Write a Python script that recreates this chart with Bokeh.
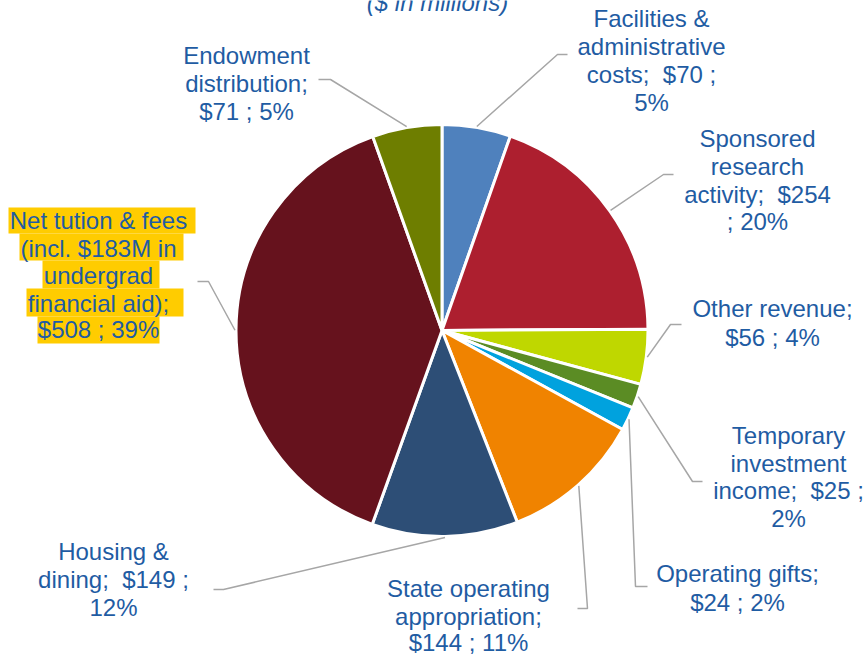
import math
from bokeh.plotting import figure
from bokeh.models import ColumnDataSource
from bokeh.core.properties import value
from bokeh.embed import file_html
from bokeh.resources import INLINE

# ---------------- data ----------------
categories = ["Facilities & administrative costs", "Sponsored research activity",
              "Other revenue", "Temporary investment income", "Operating gifts",
              "State operating appropriation", "Housing & dining",
              "Net tution & fees (incl. $183M in undergrad financial aid)",
              "Endowment distribution"]
values = [70, 254, 56, 25, 24, 144, 149, 508, 71]
percents = [5, 20, 4, 2, 2, 11, 12, 39, 5]
colors = ["#4F81BD", "#AD1F2F", "#BFD700", "#5B8C24", "#00A2DE",
          "#F08300", "#2D4E76", "#66121D", "#6E7E00"]
NB = "\u00a0"
label_lines = [
    ["Facilities &", "administrative", "costs;" + NB + NB + "$70 ;", "5%"],
    ["Sponsored", "research", "activity;" + NB + NB + "$254", "; 20%"],
    ["Other revenue;", "$56 ; 4%"],
    ["Temporary", "investment", "income;" + NB + NB + "$25 ;", "2%"],
    ["Operating gifts;", "$24 ; 2%"],
    ["State operating", "appropriation;", "$144 ; 11%"],
    ["Housing &", "dining;" + NB + NB + "$149 ;", "12%"],
    ["Net tution & fees", "(incl. $183M in", "undergrad", "financial aid);", "$508 ; 39%"],
    ["Endowment", "distribution;", "$71 ; 5%"],
]
title_text = "($ in millions)"

# ---------------- layout (reference-pixel positions) ----------------
W, H = 868, 655
def px(X):
    return X
def py(Y):
    return H - Y

CX, CY, R = 441.5, 330, 206
label_cx = [651, 757, 772, 788, 737, 468, 113, 98, 246]
label_ys = [[18, 46, 74, 102], [138, 166, 194, 221], [308, 337],
            [435, 463, 490, 518], [573, 602], [588, 616, 642],
            [551, 579, 607], [220, 248, 275, 303, 329], [55, 83, 111]]
# leader elbow and end points
elbows = [(557, 54), (663, 174), (670, 324), (692, 481), (635, 586),
          (587, 608), (223, 589), (208, 281), (330, 79)]
ends = [(567, 54), (673, 174), (681, 324), (702, 481), (647, 586),
        (577, 608), (213, 589), (197, 281), (318, 79)]
# highlight boxes for the tuition label (left, right, top, bottom)
hl_boxes = [(8, 195, 207, 233), (19, 183, 233, 260), (42, 159, 260, 288),
            (26, 183, 288, 316), (37, 159, 316, 343)]

TEXT_COLOR = "#1F5CA3"
FONT = "Liberation Sans"
FS = "24px"

p = figure(width=W, height=H, x_range=(0, W), y_range=(0, H),
           x_axis_type=None, y_axis_type=None, toolbar_location=None,
           output_backend="svg", min_border=0)
p.outline_line_color = None
p.grid.visible = False
p.background_fill_color = "white"
p.border_fill_color = "white"

# ---------------- pie ----------------
total = sum(values)
starts, ends_a, mids = [], [], []
cum = 0
for v in values:
    a0 = math.pi / 2 - 2 * math.pi * cum / total
    cum += v
    a1 = math.pi / 2 - 2 * math.pi * cum / total
    starts.append(a1)
    ends_a.append(a0)
    mids.append((a0 + a1) / 2)

src = ColumnDataSource(dict(x=[px(CX)] * len(values), y=[py(CY)] * len(values),
                            start=starts, end=ends_a, color=colors, cat=categories))
p.wedge(x="x", y="y", radius=R, start_angle="start", end_angle="end",
        direction="anticlock", fill_color="color", line_color="white",
        line_width=3, source=src)

# ---------------- leader lines ----------------
xs, ys = [], []
for m, (ex, ey), (fx, fy) in zip(mids, elbows, ends):
    sx = px(CX) + (R + 1) * math.cos(m)
    sy = py(CY) + (R + 1) * math.sin(m)
    xs.append([sx, px(ex), px(fx)])
    ys.append([sy, py(ey), py(fy)])
p.multi_line(xs=xs, ys=ys, line_color="#A6A6A6", line_width=1.5)

# ---------------- highlight ----------------
p.quad(left=[px(b[0]) for b in hl_boxes], right=[px(b[1]) for b in hl_boxes],
       top=[py(b[2]) for b in hl_boxes], bottom=[py(b[3]) for b in hl_boxes],
       fill_color="#FFCC00", line_color=None)

# ---------------- labels ----------------
tx, ty, tt = [], [], []
for cxl, ylist, lines in zip(label_cx, label_ys, label_lines):
    for yy, line in zip(ylist, lines):
        tx.append(px(cxl))
        ty.append(py(yy))
        tt.append(line)
p.text(x=tx, y=ty, text=tt, text_align="center", text_baseline="middle",
       text_font=value(FONT), text_font_size=FS, text_color=TEXT_COLOR)

# title (mostly cut off at the top)
p.text(x=[px(437)], y=[py(2)], text=[title_text], text_align="center",
       text_baseline="alphabetic", text_font=value(FONT), text_font_size=FS,
       text_font_style="italic", text_color=TEXT_COLOR)

open("out.html", "w").write(file_html(p, INLINE))
